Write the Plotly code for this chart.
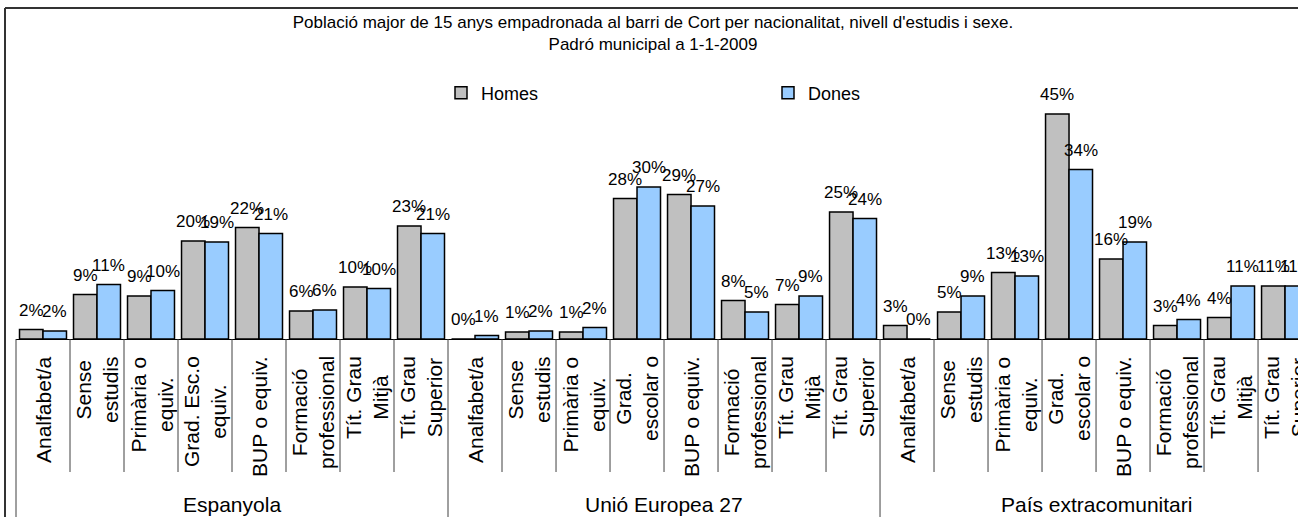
import plotly.graph_objects as go

# ---------------- data ----------------
groups = ["Espanyola", "Unió Europea 27", "País extracomunitari"]
levels_esp = ["Analfabet/a", "Sense<br>estudis", "Primària o<br>equiv.", "Grad. Esc.o<br>equiv.",
              "BUP o equiv.", "Formació<br>professional", "Tít. Grau<br>Mitjà", "Tít. Grau<br>Superior"]
levels_other = ["Analfabet/a", "Sense<br>estudis", "Primària o<br>equiv.", "Grad.<br>escolar o",
                "BUP o equiv.", "Formació<br>professional", "Tít. Grau<br>Mitjà", "Tít. Grau<br>Superior"]

homes_esp = [1.9, 8.9, 8.6, 19.6, 22.3, 5.6, 10.4, 22.6]
dones_esp = [1.6, 10.9, 9.7, 19.4, 21.1, 5.8, 10.1, 21.1]
homes_ue = [0.0, 1.4, 1.4, 28.1, 28.9, 7.7, 6.9, 25.4]
dones_ue = [0.7, 1.6, 2.3, 30.4, 26.6, 5.4, 8.6, 24.1]
homes_ext = [2.7, 5.4, 13.3, 45.0, 16.0, 2.7, 4.3, 10.6]
dones_ext = [0.0, 8.6, 12.6, 33.9, 19.4, 3.9, 10.6, 10.6]

title_text = ("Població major de 15 anys empadronada al barri de Cort per nacionalitat, "
              "nivell d'estudis i sexe.<br>Padró municipal a 1-1-2009")

# ---------------- build ----------------
homes = homes_esp + homes_ue + homes_ext
dones = dones_esp + dones_ue + dones_ext
labels = levels_esp + levels_other + levels_other
n_per = len(levels_esp)
x = list(range(len(homes)))

FONT = "Liberation Sans, Arial, sans-serif"
GREY = "#C0C0C0"
BLUE = "#99CCFF"
bargap = 0.13
xmin, xmax = -0.5, 23.24

fig = go.Figure()
fig.add_trace(go.Bar(x=x, y=homes, name="Homes",
                     marker=dict(color=GREY, line=dict(color="black", width=1.5))))
fig.add_trace(go.Bar(x=x, y=dones, name="Dones",
                     marker=dict(color=BLUE, line=dict(color="black", width=1.5))))

annotations = []
off = (1 - bargap) / 4
for vals, sign in ((homes, -1), (dones, 1)):
    for i, v in enumerate(vals):
        annotations.append(dict(x=i + sign * off, y=v, xref="x", yref="y",
                                text=f"{v:.0f}%", showarrow=False, yanchor="bottom",
                                yshift=8, font=dict(family=FONT, size=17, color="black")))

for i, lab in enumerate(labels):
    annotations.append(dict(x=i, y=-0.062, xref="x", yref="paper", text=lab,
                            textangle=-90, showarrow=False, yanchor="top", xanchor="center",
                            align="center", font=dict(family=FONT, size=21, color="black")))

for g, name in enumerate(groups):
    annotations.append(dict(x=g * n_per + (n_per - 1) / 2, y=-0.66, xref="x", yref="paper",
                            text=name, showarrow=False, yanchor="middle",
                            font=dict(family=FONT, size=21, color="black")))

shapes = []
for k in range(len(x) + 1):
    xb = k - 0.5
    px = (xb - xmin) / (xmax - xmin)
    if px > 1:
        continue
    y1 = -0.76 if k % n_per == 0 else -0.532
    shapes.append(dict(type="line", xref="paper", yref="paper", x0=px, x1=px, y0=0, y1=y1,
                       line=dict(color="#404040", width=1)))

# outer chart border (left and top visible)
bx = (5 - 16) / 1282
by = (339 - 8) / 250
shapes.append(dict(type="line", xref="paper", yref="paper", x0=bx, x1=bx, y0=by, y1=-0.8,
                   line=dict(color="#333333", width=2)))
shapes.append(dict(type="line", xref="paper", yref="paper", x0=bx, x1=1.05, y0=by, y1=by,
                   line=dict(color="#333333", width=2)))

fig.update_layout(
    width=1298, height=517,
    margin=dict(l=16, r=0, t=89, b=178, pad=0),
    paper_bgcolor="white", plot_bgcolor="white",
    barmode="group", bargap=bargap, bargroupgap=0,
    font=dict(family=FONT, size=17, color="black"),
    title=dict(text=title_text, x=653 / 1298, xanchor="center", xref="container",
               y=1 - 28 / 517, yanchor="top", yref="container",
               font=dict(family=FONT, size=17, color="black")),
    legend=dict(orientation="h", x=(441 - 16) / 1282, xanchor="left", y=0.984, yanchor="middle",
                entrywidth=282, entrywidthmode="pixels", bgcolor="rgba(0,0,0,0)",
                font=dict(family=FONT, size=18, color="black"), traceorder="normal"),
    xaxis=dict(range=[xmin, xmax], showticklabels=False, showgrid=False, zeroline=False,
               showline=True, linecolor="black", linewidth=1, ticks=""),
    yaxis=dict(range=[0, 50], visible=False),
    annotations=annotations,
    shapes=shapes,
)

fig.write_html("out.html", config={"displayModeBar": False},
               post_script="document.body.style.margin='0';document.body.style.padding='0';")
